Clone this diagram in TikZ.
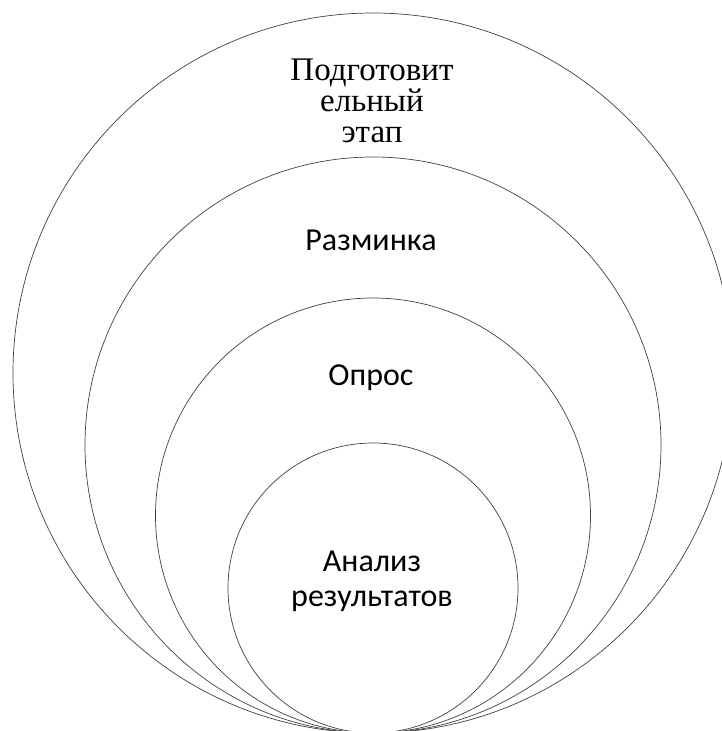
\documentclass[tikz,border=0pt]{standalone}
\usepackage{fontspec}
\newfontfamily\serifru{Liberation Serif}
\newfontfamily\sansru{Carlito}
\begin{document}
\begin{tikzpicture}[x=1pt,y=-1pt,
  ring/.style={circle, draw=black!75, line width=0.7pt, inner sep=0pt, fill=none},
  sanslbl/.style={align=center, inner sep=0pt, font=\sansru\fontsize{32}{35}\selectfont},
  seriflbl/.style={align=center, inner sep=0pt, font=\serifru\fontsize{33}{31}\selectfont}]
\useasboundingbox (0,0) rectangle (722,731);
\clip (0,0) rectangle (722,731);
\node[ring, minimum size=720pt] (c1) at (373,373) {};
\node[ring, minimum size=576pt] (c2) at (373,445) {};
\node[ring, minimum size=435pt] (c3) at (373,515.5) {};
\node[ring, minimum size=290pt] (c4) at (373,588) {};
\node[seriflbl] (t1) at (372,101) {Подготовит\\ельный\\этап};
\node[sanslbl] (t2) at (371,240) {Разминка};
\node[sanslbl] (t3) at (371,378) {Опрос};
\node[sanslbl] (t4) at (372,581) {Анализ\\результатов};
\end{tikzpicture}
\end{document}
